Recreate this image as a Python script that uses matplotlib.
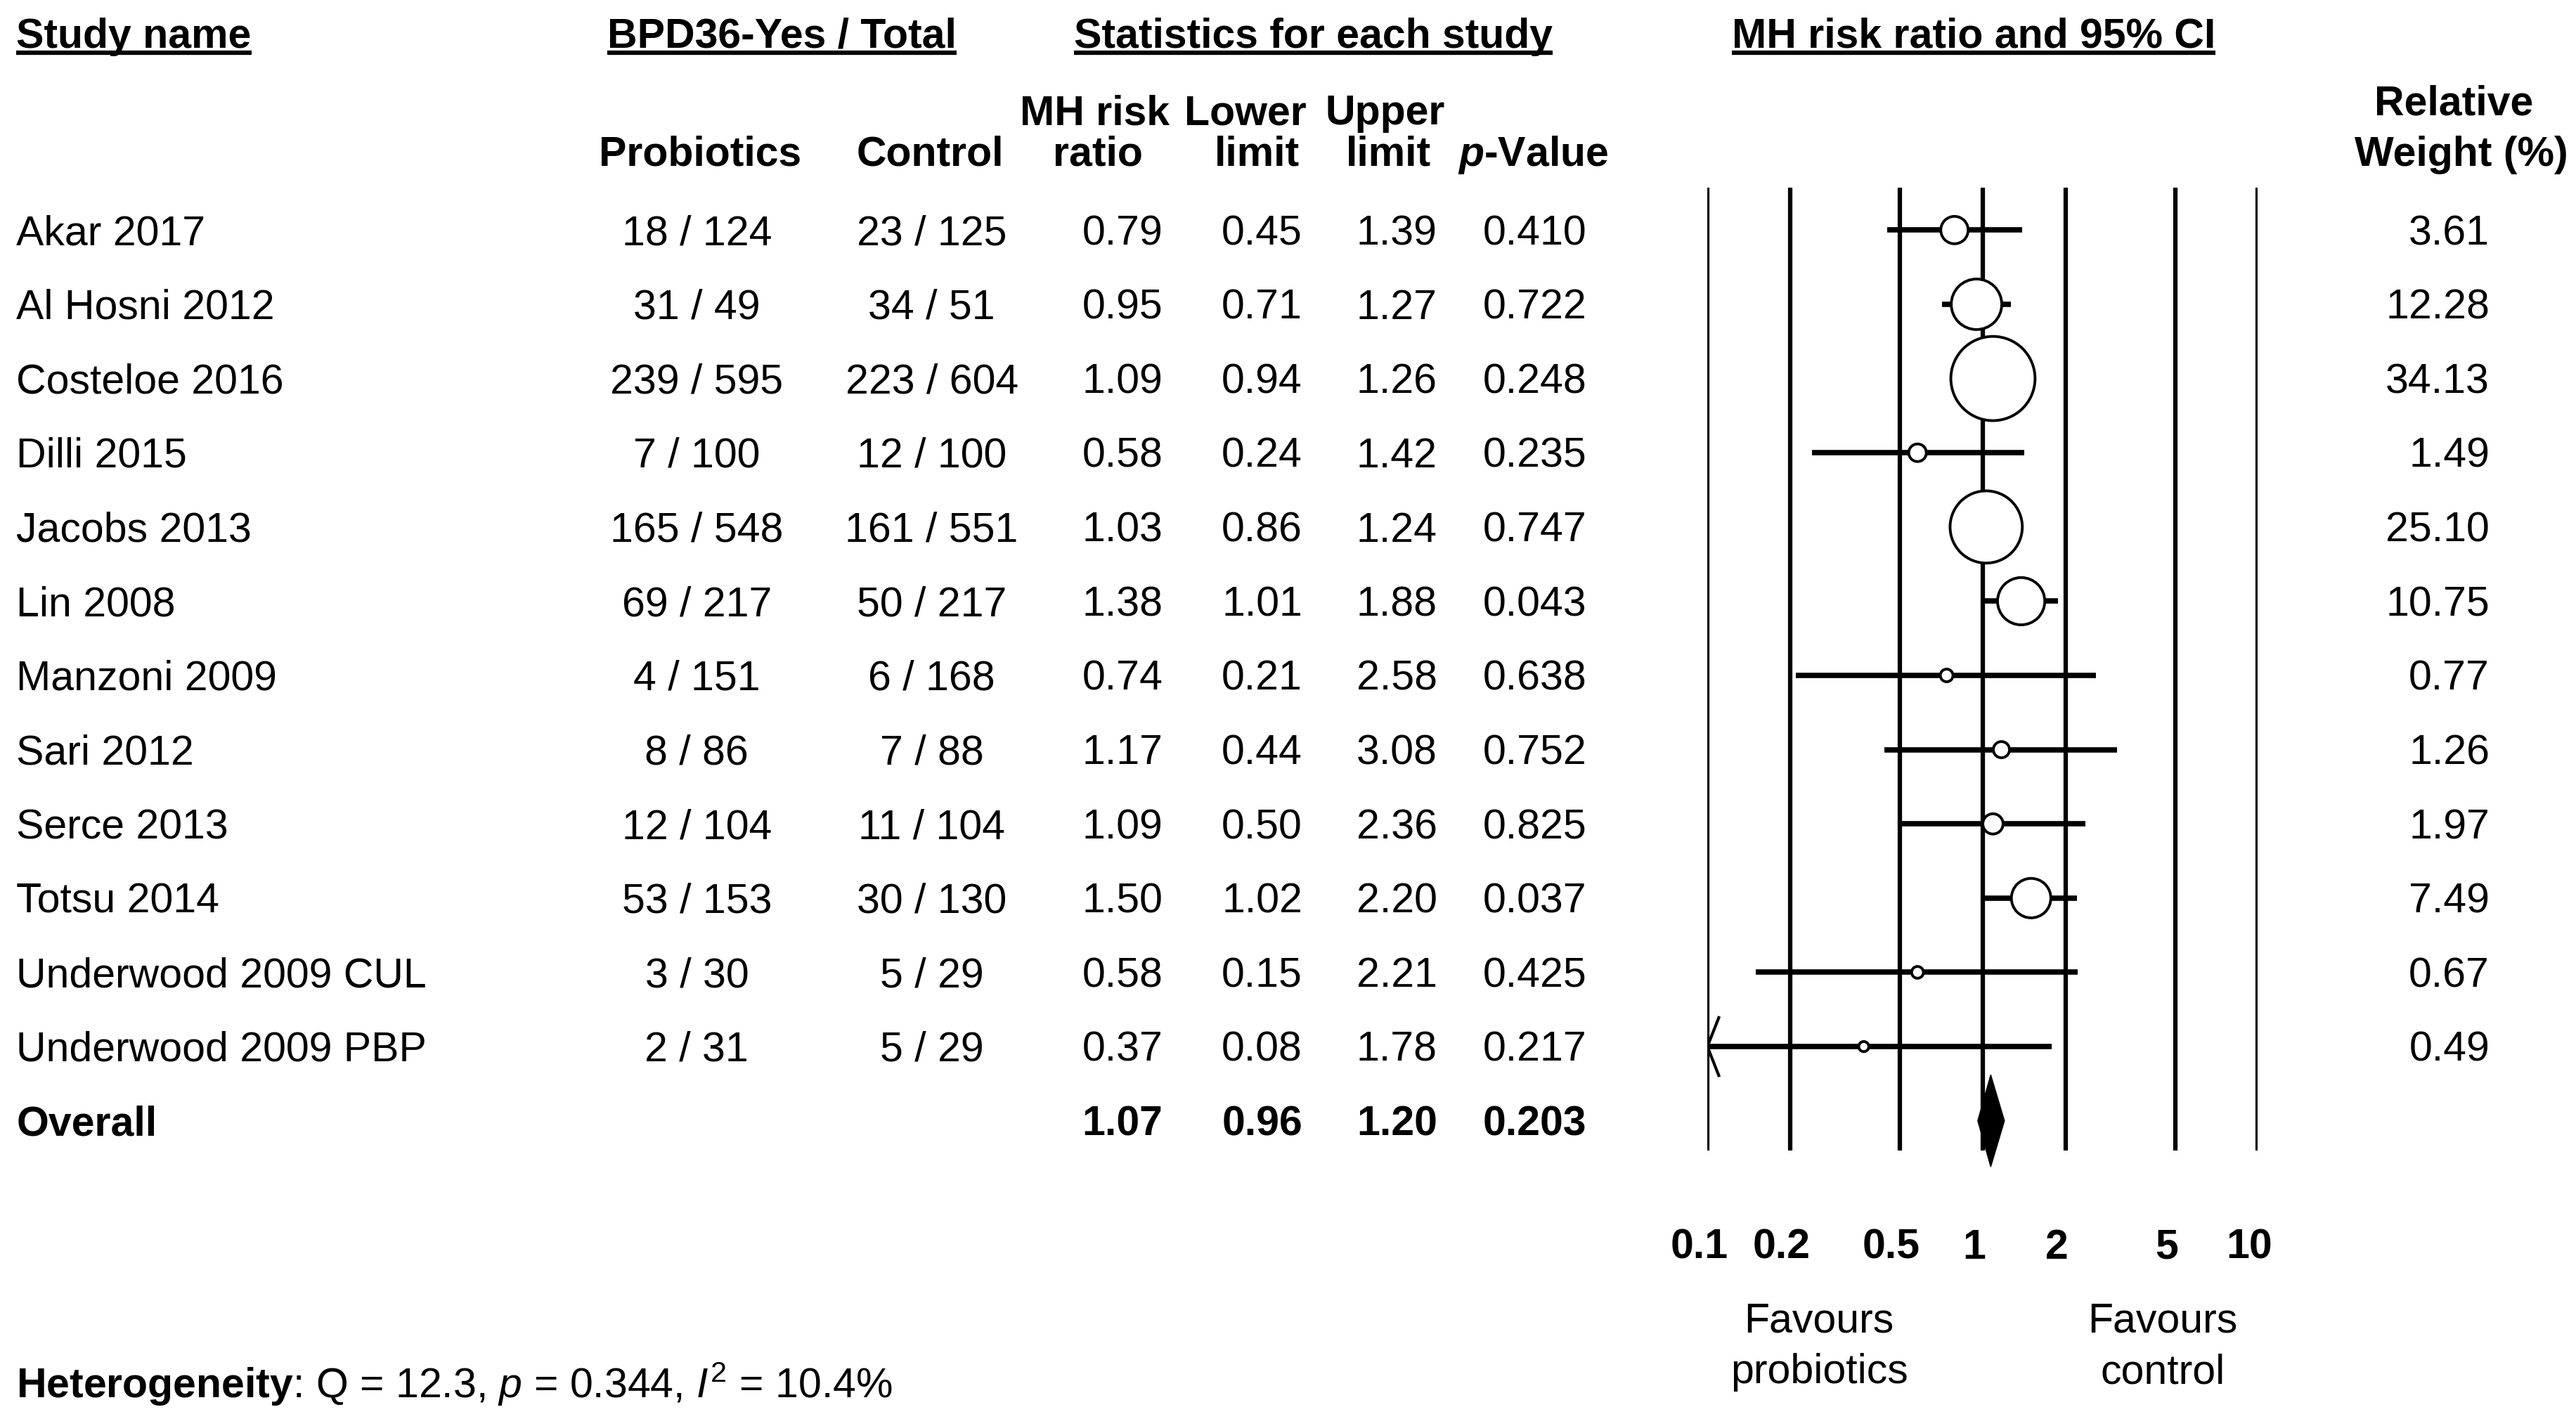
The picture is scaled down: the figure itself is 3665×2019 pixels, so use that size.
import numpy as np
import matplotlib
matplotlib.use('Agg')
import matplotlib.pyplot as plt
from matplotlib.transforms import offset_copy

plt.rcParams['font.family'] = ['Liberation Sans', 'DejaVu Sans']
plt.rcParams['mathtext.fontset'] = 'custom'
plt.rcParams['mathtext.rm'] = 'Liberation Sans'
plt.rcParams['mathtext.it'] = 'Liberation Sans:italic'
plt.rcParams['mathtext.bf'] = 'Liberation Sans:bold'
plt.rcParams['mathtext.sf'] = 'Liberation Sans:bold:italic'

# data
studies = ['Akar 2017', 'Al Hosni 2012', 'Costeloe 2016', 'Dilli 2015', 'Jacobs 2013',
           'Lin 2008', 'Manzoni 2009', 'Sari 2012', 'Serce 2013', 'Totsu 2014',
           'Underwood 2009 CUL', 'Underwood 2009 PBP']
probiotics = ['18 / 124', '31 / 49', '239 / 595', '7 / 100', '165 / 548', '69 / 217',
              '4 / 151', '8 / 86', '12 / 104', '53 / 153', '3 / 30', '2 / 31']
control = ['23 / 125', '34 / 51', '223 / 604', '12 / 100', '161 / 551', '50 / 217',
           '6 / 168', '7 / 88', '11 / 104', '30 / 130', '5 / 29', '5 / 29']
rr = [0.79, 0.95, 1.09, 0.58, 1.03, 1.38, 0.74, 1.17, 1.09, 1.50, 0.58, 0.37]
lower = [0.45, 0.71, 0.94, 0.24, 0.86, 1.01, 0.21, 0.44, 0.50, 1.02, 0.15, 0.08]
upper = [1.39, 1.27, 1.26, 1.42, 1.24, 1.88, 2.58, 3.08, 2.36, 2.20, 2.21, 1.78]
pval = ['0.410', '0.722', '0.248', '0.235', '0.747', '0.043', '0.638', '0.752',
        '0.825', '0.037', '0.425', '0.217']
weight = [3.61, 12.28, 34.13, 1.49, 25.10, 10.75, 0.77, 1.26, 1.97, 7.49, 0.67, 0.49]
overall = {'rr': 1.07, 'lower': 0.96, 'upper': 1.20, 'p': '0.203'}
ticks = [0.1, 0.2, 0.5, 1, 2, 5, 10]
tick_labels = ['0.1', '0.2', '0.5', '1', '2', '5', '10']

# layout in units of a 1568 wide picture
W, H = 1568, 863.5
ROW0, DROW = 140, 45.17
FS = 42.5
TOFF = 0.05  # text sits a touch lower than its bbox centre


def row(ypix):
    return (ypix - ROW0) / DROW


def trow(ypix):
    return row(ypix) + TOFF


fig = plt.figure(figsize=(36.66, 20.19), dpi=100)
tx = fig.add_axes([0, 0, 1, 1])
tx.set_xlim(0, W)
tx.set_ylim(row(H), row(0))
tx.axis('off')

fx = fig.add_axes([1039 / W, 0, (1374 - 1039) / W, 1])
fx.set_xscale('log')
fx.set_xlim(0.1, 10)
fx.set_ylim(row(H), row(0))
fx.axis('off')

# headers
heads = []
heads.append(tx.text(10, trow(20), 'Study name', ha='left', va='center', fontsize=FS, fontweight='bold'))
heads.append(tx.text(476, trow(20), 'BPD36-Yes / Total', ha='center', va='center', fontsize=FS, fontweight='bold'))
heads.append(tx.text(799, trow(20), 'Statistics for each study', ha='center', va='center', fontsize=FS, fontweight='bold'))
heads.append(tx.text(1201, trow(20), 'MH risk ratio and 95% CI', ha='center', va='center', fontsize=FS, fontweight='bold'))

sub = [(426, 'Probiotics'), (566, 'Control'), (668, 'ratio'), (765, 'limit'), (845, 'limit')]
for x, s in sub:
    tx.text(x, trow(92), s, ha='center', va='center', fontsize=FS, fontweight='bold')
for x, s in [(666, 'MH risk'), (758, 'Lower'), (843, 'Upper')]:
    tx.text(x, trow(67), s, ha='center', va='center', fontsize=FS, fontweight='bold')
tx.text(933, trow(92), r'$\mathsf{p}$-Value', ha='center', va='center', fontsize=FS, fontweight='bold')
tx.text(1493, trow(61), 'Relative', ha='center', va='center', fontsize=FS, fontweight='bold')
tx.text(1498, trow(92), 'Weight (%)', ha='center', va='center', fontsize=FS, fontweight='bold')

# table rows
for i in range(len(studies)):
    yy = i + TOFF
    tx.text(10, yy, studies[i], ha='left', va='center', fontsize=FS)
    tx.text(424, yy, probiotics[i], ha='center', va='center', fontsize=FS)
    tx.text(567, yy, control[i], ha='center', va='center', fontsize=FS)
    tx.text(683, yy, f'{rr[i]:.2f}', ha='center', va='center', fontsize=FS)
    tx.text(768, yy, f'{lower[i]:.2f}', ha='center', va='center', fontsize=FS)
    tx.text(850, yy, f'{upper[i]:.2f}', ha='center', va='center', fontsize=FS)
    tx.text(934, yy, pval[i], ha='center', va='center', fontsize=FS)
    tx.text(1515, yy, f'{weight[i]:.2f}', ha='right', va='center', fontsize=FS)

n = len(studies)
yy = n + TOFF
tx.text(10, yy, 'Overall', ha='left', va='center', fontsize=FS, fontweight='bold')
tx.text(683, yy, f"{overall['rr']:.2f}", ha='center', va='center', fontsize=FS, fontweight='bold')
tx.text(768, yy, f"{overall['lower']:.2f}", ha='center', va='center', fontsize=FS, fontweight='bold')
tx.text(850, yy, f"{overall['upper']:.2f}", ha='center', va='center', fontsize=FS, fontweight='bold')
tx.text(934, yy, overall['p'], ha='center', va='center', fontsize=FS, fontweight='bold')

# forest plot
fx.vlines(ticks, row(114), row(700), color='black', lw=4.5, zorder=1)
y = np.arange(n)
lo_clip = np.maximum(lower, 0.1)
fx.hlines(y, lo_clip, upper, color='black', lw=5.5, zorder=2)
sizes = np.array(weight) * 218
fx.scatter(rr, y, s=sizes, facecolor='white', edgecolor='black', linewidth=2.8, zorder=3)
# arrow for CI running past 0.1
for i in range(n):
    if lower[i] < 0.1:
        fx.plot([0.11, 0.1, 0.11], [i - 0.39, i, i + 0.39], color='black', lw=3, zorder=2)
# overall diamond
fx.fill([overall['lower'], overall['rr'], overall['upper'], overall['rr']],
        [n, n - 0.62, n, n + 0.62], color='black', zorder=4)

toff = offset_copy(fx.transData, fig=fig, x=-12, y=0, units='dots')
for t, lab in zip(ticks, tick_labels):
    fx.text(t, trow(757), lab, transform=toff, ha='center', va='center', fontsize=FS, fontweight='bold')

tx.text(1107, trow(802), 'Favours', ha='center', va='center', fontsize=FS)
tx.text(1107, trow(833), 'probiotics', ha='center', va='center', fontsize=FS)
tx.text(1316, trow(802), 'Favours', ha='center', va='center', fontsize=FS)
tx.text(1316, trow(833), 'control', ha='center', va='center', fontsize=FS)

tx.text(10, trow(840), r'$\mathbf{Heterogeneity}$: Q = 12.3, $\mathit{p}$ = 0.344, $\mathit{I}^2$ = 10.4%',
        ha='left', va='center', fontsize=FS)

# underline the top headers
fig.canvas.draw()
inv = tx.transData.inverted()
for h in heads:
    bb = h.get_window_extent()
    (x0, _), (x1, _) = inv.transform([[bb.x0, bb.y0], [bb.x1, bb.y1]])
    tx.plot([x0, x1], [row(32), row(32)], color='black', lw=4.5, solid_capstyle='butt')

fig.savefig('out.png', dpi=100, facecolor='white')
